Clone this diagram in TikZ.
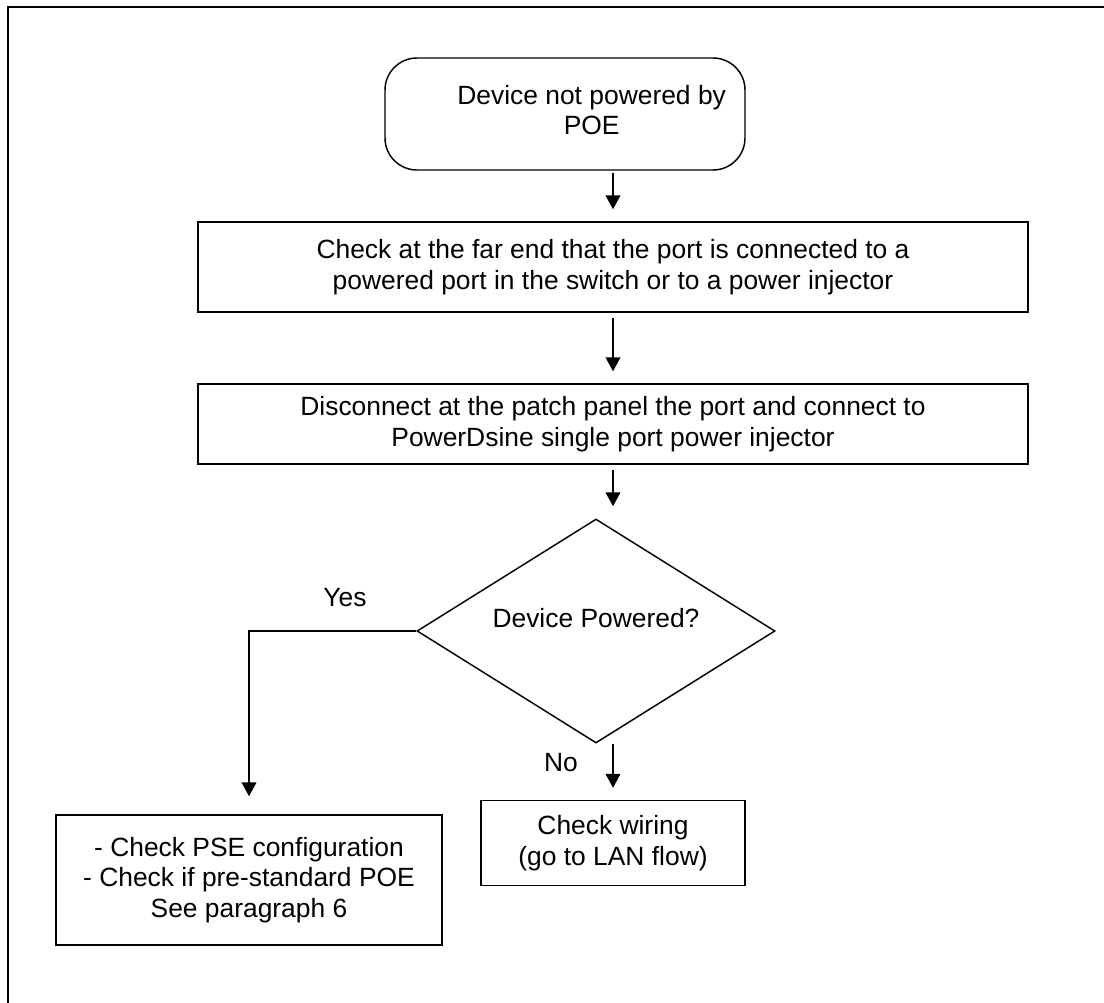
\documentclass[tikz,border=0pt]{standalone}
\usepackage{fontspec}
\setmainfont{Liberation Sans}
\usetikzlibrary{positioning,arrows.meta,calc,shapes.geometric}
\definecolor{ink}{HTML}{000000}
\definecolor{paper}{HTML}{FFFFFF}

\begin{document}
\begin{tikzpicture}[x=.75pt,y=-.75pt,
  txt/.style={text=ink,font=\fontsize{19.8}{23}\selectfont,align=center},
  box/.style={txt,draw=ink,fill=paper,line width=1.1pt,inner sep=0pt},
  flow/.style={draw=ink,line width=1.5pt,-{Triangle[length=10.5pt,width=11pt]},shorten >=9pt}]
\useasboundingbox (0,0) rectangle (1104,1003);
\draw[ink,line width=2pt] (1104,7)--(8,7)--(8,1003);
\node[box,rounded corners=24pt,minimum width=270pt,minimum height=84pt,
  label={[txt,xshift=20pt,yshift=3pt]center:Device not powered by\\POE}] (start) at (565,114){};
\node[box,minimum width=622.5pt,minimum height=67.5pt] (check) at (613,267){Check at the far end that the port is connected to a\\powered port in the switch or to a power injector};
\node[box,minimum width=622.5pt,minimum height=60pt] (patch) at (613,424){Disconnect at the patch panel the port and connect to\\PowerDsine single port power injector};
\node[box,diamond,aspect=1.6,minimum width=268.5pt,minimum height=168pt,
  label={[txt,yshift=10pt]center:Device Powered?}] (powered) at (596,631){};
\node[box,minimum width=198pt,minimum height=63.75pt] (wiring) at (613,843){Check wiring\\(go to LAN flow)};
\node[box,minimum width=289.5pt,minimum height=97.5pt] (pse) at (249,880){- Check PSE configuration\\- Check if pre-standard POE\\See paragraph 6};
\draw[flow,shorten <=2pt] (start.south -| check.north) -- (check.north);
\draw[flow,shorten <=4pt] (check.south) -- (patch.north);
\draw[flow,shorten <=4pt] (patch.south) -- (patch.south |- powered.north);
\draw[flow] (powered.south -| wiring.north) -- (wiring.north);
\draw[flow,shorten >=13.5pt] (powered.west) -| (pse.north);
\node[txt] (yes) at (345,598){Yes};
\node[txt] (no) at (561,763){No};
\end{tikzpicture}
\end{document}
